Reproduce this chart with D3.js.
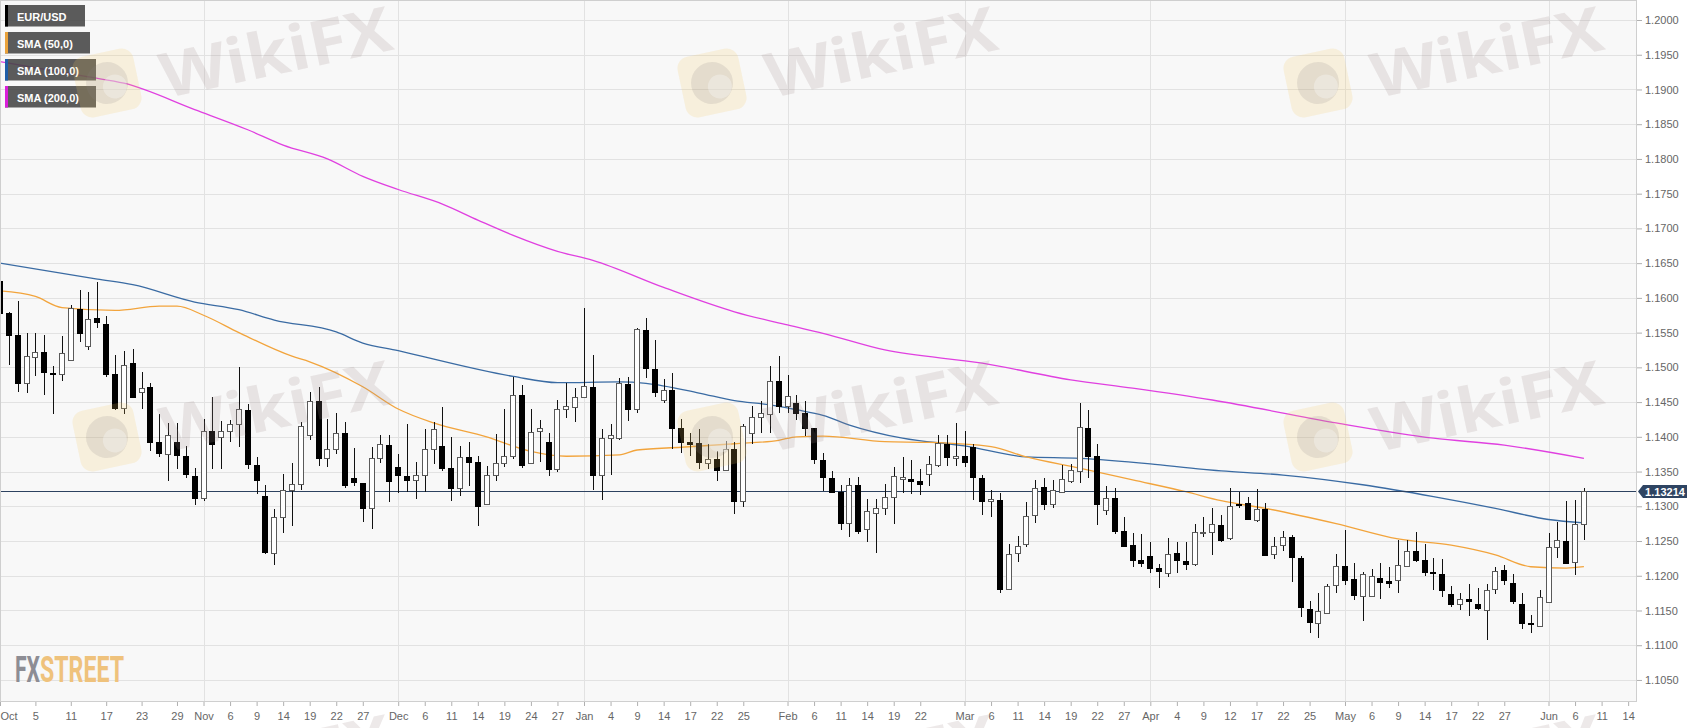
<!DOCTYPE html>
<meta charset="utf-8">
<script src="https://d3js.org/d3.v7.min.js"></script>
<style>
  body { margin: 0; background: #fff; }
  svg { display: block; }
</style>
<div id="chart"></div>
<script>
  // EUR/USD daily candles, Oct 1 2018 .. Jun 7 2019 (one value per weekday)
  var opens = [
    1.1624, 1.1578, 1.1546, 1.1477, 1.1515, 1.1522, 1.1492, 1.1490, 1.1511, 1.1584,
    1.1531, 1.1571, 1.1563, 1.1490, 1.1442, 1.1506, 1.1464, 1.1472, 1.1392, 1.1375,
    1.1392, 1.1372, 1.1343, 1.1312, 1.1408, 1.1400, 1.1408, 1.1418, 1.1439, 1.1360,
    1.1315, 1.1233, 1.1285, 1.1323, 1.1332, 1.1403, 1.1451, 1.1369, 1.1382, 1.1405,
    1.1341, 1.1333, 1.1297, 1.1369, 1.1388, 1.1356, 1.1344, 1.1338, 1.1345, 1.1382,
    1.1387, 1.1355, 1.1326, 1.1371, 1.1364, 1.1303, 1.1345, 1.1363, 1.1373, 1.1460,
    1.1363, 1.1409, 1.1392, 1.1353, 1.1440, 1.1443, 1.1457, 1.1471, 1.1345, 1.1398,
    1.1398, 1.1476, 1.1440, 1.1554, 1.1497, 1.1453, 1.1467, 1.1412, 1.1392, 1.1391,
    1.1362, 1.1368, 1.1352, 1.1382, 1.1308, 1.1406, 1.1428, 1.1433, 1.1480, 1.1445,
    1.1448, 1.1435, 1.1412, 1.1367, 1.1341, 1.1321, 1.1276, 1.1331, 1.1268, 1.1291,
    1.1297, 1.1314, 1.1340, 1.1339, 1.1337, 1.1346, 1.1360, 1.1390, 1.1370, 1.1372,
    1.1386, 1.1341, 1.1307, 1.1309, 1.1181, 1.1233, 1.1246, 1.1287, 1.1328, 1.1303,
    1.1321, 1.1337, 1.1351, 1.1413, 1.1372, 1.1294, 1.1312, 1.1264, 1.1244, 1.1222,
    1.1229, 1.1211, 1.1204, 1.1233, 1.1221, 1.1217, 1.1261, 1.1263, 1.1273, 1.1254,
    1.1303, 1.1305, 1.1280, 1.1296, 1.1232, 1.1244, 1.1256, 1.1226, 1.1152, 1.1132,
    1.1146, 1.1186, 1.1214, 1.1196, 1.1171, 1.1171, 1.1197, 1.1192, 1.1194, 1.1214,
    1.1235, 1.1223, 1.1206, 1.1203, 1.1174, 1.1160, 1.1166, 1.1160, 1.1151, 1.1181,
    1.1208, 1.1190, 1.1160, 1.1132, 1.1128, 1.1162, 1.1241, 1.1250, 1.1220, 1.1275
  ];
  var highs = [
    1.1632, 1.1580, 1.1595, 1.1549, 1.1550, 1.1547, 1.1502, 1.1545, 1.1590, 1.1611,
    1.1608, 1.1623, 1.1574, 1.1518, 1.1524, 1.1526, 1.1493, 1.1477, 1.1433, 1.1420,
    1.1420, 1.1387, 1.1355, 1.1425, 1.1457, 1.1423, 1.1424, 1.1500, 1.1447, 1.1371,
    1.1331, 1.1296, 1.1347, 1.1362, 1.1421, 1.1464, 1.1472, 1.1425, 1.1434, 1.1421,
    1.1384, 1.1333, 1.1386, 1.1403, 1.1403, 1.1375, 1.1419, 1.1364, 1.1411, 1.1422,
    1.1443, 1.1400, 1.1387, 1.1393, 1.1372, 1.1358, 1.1404, 1.1440, 1.1486, 1.1475,
    1.1440, 1.1424, 1.1405, 1.1453, 1.1478, 1.1470, 1.1585, 1.1518, 1.1411, 1.1419,
    1.1484, 1.1486, 1.1557, 1.1571, 1.1540, 1.1483, 1.1492, 1.1425, 1.1406, 1.1411,
    1.1390, 1.1380, 1.1394, 1.1392, 1.1419, 1.1445, 1.1451, 1.1502, 1.1516, 1.1489,
    1.1460, 1.1452, 1.1412, 1.1376, 1.1351, 1.1330, 1.1341, 1.1342, 1.1310, 1.1311,
    1.1332, 1.1356, 1.1371, 1.1367, 1.1353, 1.1372, 1.1402, 1.1402, 1.1420, 1.1408,
    1.1390, 1.1345, 1.1324, 1.1319, 1.1246, 1.1257, 1.1306, 1.1338, 1.1341, 1.1338,
    1.1360, 1.1361, 1.1448, 1.1438, 1.1390, 1.1329, 1.1327, 1.1284, 1.1261, 1.1260,
    1.1249, 1.1217, 1.1255, 1.1249, 1.1248, 1.1275, 1.1284, 1.1297, 1.1287, 1.1326,
    1.1321, 1.1314, 1.1325, 1.1305, 1.1256, 1.1264, 1.1259, 1.1228, 1.1163, 1.1175,
    1.1188, 1.1231, 1.1266, 1.1219, 1.1206, 1.1210, 1.1218, 1.1213, 1.1251, 1.1251,
    1.1263, 1.1246, 1.1225, 1.1224, 1.1185, 1.1175, 1.1188, 1.1182, 1.1188, 1.1213,
    1.1216, 1.1202, 1.1175, 1.1143, 1.1180, 1.1262, 1.1278, 1.1307, 1.1309, 1.1327
  ];
  var lows = [
    1.1572, 1.1504, 1.1464, 1.1463, 1.1488, 1.1460, 1.1433, 1.1480, 1.1509, 1.1536,
    1.1525, 1.1556, 1.1486, 1.1439, 1.1433, 1.1456, 1.1440, 1.1379, 1.1371, 1.1336,
    1.1353, 1.1341, 1.1302, 1.1307, 1.1353, 1.1353, 1.1392, 1.1386, 1.1353, 1.1317,
    1.1232, 1.1216, 1.1262, 1.1272, 1.1323, 1.1395, 1.1358, 1.1356, 1.1375, 1.1326,
    1.1329, 1.1278, 1.1267, 1.1362, 1.1306, 1.1319, 1.1320, 1.1310, 1.1321, 1.1361,
    1.1351, 1.1307, 1.1315, 1.1329, 1.1271, 1.1302, 1.1336, 1.1356, 1.1368, 1.1355,
    1.1362, 1.1364, 1.1344, 1.1350, 1.1427, 1.1421, 1.1456, 1.1324, 1.1309, 1.1345,
    1.1396, 1.1423, 1.1434, 1.1484, 1.1457, 1.1449, 1.1382, 1.1377, 1.1372, 1.1353,
    1.1353, 1.1337, 1.1351, 1.1289, 1.1299, 1.1390, 1.1405, 1.1405, 1.1435, 1.1435,
    1.1424, 1.1401, 1.1361, 1.1322, 1.1320, 1.1266, 1.1256, 1.1260, 1.1249, 1.1233,
    1.1287, 1.1275, 1.1319, 1.1318, 1.1316, 1.1329, 1.1357, 1.1358, 1.1358, 1.1357,
    1.1309, 1.1288, 1.1285, 1.1175, 1.1180, 1.1220, 1.1242, 1.1276, 1.1294, 1.1298,
    1.1320, 1.1334, 1.1334, 1.1341, 1.1273, 1.1287, 1.1260, 1.1241, 1.1213, 1.1212,
    1.1204, 1.1183, 1.1198, 1.1204, 1.1209, 1.1214, 1.1256, 1.1230, 1.1249, 1.1252,
    1.1298, 1.1280, 1.1278, 1.1228, 1.1224, 1.1235, 1.1191, 1.1141, 1.1117, 1.1110,
    1.1145, 1.1175, 1.1187, 1.1165, 1.1135, 1.1170, 1.1166, 1.1182, 1.1175, 1.1213,
    1.1220, 1.1200, 1.1179, 1.1169, 1.1155, 1.1150, 1.1142, 1.1150, 1.1108, 1.1174,
    1.1187, 1.1160, 1.1124, 1.1117, 1.1126, 1.1161, 1.1226, 1.1219, 1.1201, 1.1251
  ];
  var closes = [
    1.1578, 1.1547, 1.1478, 1.1516, 1.1522, 1.1493, 1.1491, 1.1520, 1.1586, 1.1550,
    1.1570, 1.1565, 1.1491, 1.1442, 1.1503, 1.1457, 1.1470, 1.1392, 1.1377, 1.1403,
    1.1374, 1.1347, 1.1312, 1.1409, 1.1389, 1.1408, 1.1419, 1.1440, 1.1361, 1.1338,
    1.1234, 1.1285, 1.1323, 1.1332, 1.1416, 1.1452, 1.1369, 1.1382, 1.1406, 1.1331,
    1.1335, 1.1297, 1.1369, 1.1389, 1.1336, 1.1345, 1.1338, 1.1345, 1.1382, 1.1411,
    1.1355, 1.1327, 1.1371, 1.1364, 1.1300, 1.1345, 1.1363, 1.1373, 1.1460, 1.1359,
    1.1407, 1.1412, 1.1353, 1.1440, 1.1444, 1.1458, 1.1473, 1.1345, 1.1398, 1.1403,
    1.1477, 1.1440, 1.1555, 1.1499, 1.1464, 1.1468, 1.1413, 1.1392, 1.1390, 1.1364,
    1.1368, 1.1352, 1.1382, 1.1308, 1.1415, 1.1428, 1.1434, 1.1481, 1.1444, 1.1459,
    1.1435, 1.1412, 1.1368, 1.1342, 1.1321, 1.1276, 1.1331, 1.1265, 1.1293, 1.1297,
    1.1314, 1.1343, 1.1342, 1.1337, 1.1332, 1.1361, 1.1391, 1.1371, 1.1372, 1.1364,
    1.1342, 1.1307, 1.1311, 1.1181, 1.1231, 1.1243, 1.1286, 1.1327, 1.1304, 1.1324,
    1.1340, 1.1352, 1.1414, 1.1373, 1.1304, 1.1312, 1.1265, 1.1243, 1.1222, 1.1218,
    1.1211, 1.1207, 1.1232, 1.1222, 1.1217, 1.1263, 1.1263, 1.1275, 1.1252, 1.1300,
    1.1302, 1.1281, 1.1296, 1.1230, 1.1243, 1.1256, 1.1227, 1.1155, 1.1134, 1.1149,
    1.1185, 1.1214, 1.1194, 1.1172, 1.1202, 1.1199, 1.1191, 1.1190, 1.1215, 1.1235,
    1.1222, 1.1206, 1.1204, 1.1179, 1.1159, 1.1167, 1.1164, 1.1153, 1.1180, 1.1207,
    1.1194, 1.1163, 1.1132, 1.1131, 1.1170, 1.1241, 1.1251, 1.1219, 1.1275, 1.13214
  ];
  var lastPrice = 1.13214;

  // moving averages (trading-day index -> value)
  var sma50Idx = [0, 4, 7, 13, 18, 20, 23, 27, 33, 35, 41, 45, 49, 55, 60, 64, 70, 72, 77, 83,
    88, 90, 93, 100, 105, 112, 116, 122, 128, 134, 138, 143, 151, 158, 164, 169, 173, 177, 179];
  var sma50Val = [1.1610, 1.1602, 1.1586, 1.1582, 1.1588, 1.1588, 1.1575, 1.1550, 1.1516, 1.1508,
    1.1472, 1.1440, 1.1420, 1.1400, 1.1379, 1.1372, 1.1374, 1.1381, 1.1385, 1.1390,
    1.1395, 1.1400, 1.1401, 1.1393, 1.1392, 1.1386, 1.1371, 1.1355, 1.1338, 1.1321,
    1.1308, 1.1297, 1.1275, 1.1253, 1.1244, 1.1230, 1.1213, 1.1211, 1.1213];
  var sma100Idx = [0, 11, 15, 22, 27, 31, 38, 41, 45, 47, 58, 63, 70, 73, 79, 83, 87, 90, 93, 96,
    102, 109, 116, 122, 130, 136, 138, 145, 154, 162, 169, 175, 179];
  var sma100Val = [1.1650, 1.1627, 1.1619, 1.1594, 1.1583, 1.1568, 1.1551, 1.1535, 1.1524, 1.1518,
    1.1487, 1.1478, 1.1479, 1.1477, 1.1463, 1.1452, 1.1446, 1.1439, 1.1431, 1.1417,
    1.1398, 1.1387, 1.1371, 1.1369, 1.1361, 1.1353, 1.1351, 1.1345, 1.1331, 1.1314,
    1.1297, 1.1281, 1.1276];
  var sma200Idx = [0, 10, 14, 22, 28, 32, 37, 41, 45, 50, 54, 58, 63, 67, 75, 83, 89, 93, 100,
    111, 121, 128, 137, 151, 162, 170, 179];
  var sma200Val = [1.1940, 1.1918, 1.1909, 1.1871, 1.1842, 1.1820, 1.1800, 1.1775, 1.1756, 1.1735,
    1.1712, 1.1690, 1.1667, 1.1654, 1.1615, 1.1580, 1.1561, 1.1549, 1.1525,
    1.1506, 1.1482, 1.1470, 1.1453, 1.1420, 1.1398, 1.1388, 1.1369];

  // axis ticks
  var priceTicks = [1.2000, 1.1950, 1.1900, 1.1850, 1.1800, 1.1750, 1.1700, 1.1650, 1.1600, 1.1550,
    1.1500, 1.1450, 1.1400, 1.1350, 1.1300, 1.1250, 1.1200, 1.1150, 1.1100, 1.1050];
  var tickDates = [
    "2018-10-01", "2018-10-05", "2018-10-11", "2018-10-17", "2018-10-23", "2018-10-29",
    "2018-11-01", "2018-11-06", "2018-11-09", "2018-11-14", "2018-11-19", "2018-11-22", "2018-11-27",
    "2018-12-03", "2018-12-06", "2018-12-11", "2018-12-14", "2018-12-19", "2018-12-24", "2018-12-27",
    "2019-01-01", "2019-01-04", "2019-01-09", "2019-01-14", "2019-01-17", "2019-01-22", "2019-01-25",
    "2019-02-01", "2019-02-06", "2019-02-11", "2019-02-14", "2019-02-19", "2019-02-22",
    "2019-03-01", "2019-03-06", "2019-03-11", "2019-03-14", "2019-03-19", "2019-03-22", "2019-03-27",
    "2019-04-01", "2019-04-04", "2019-04-09", "2019-04-12", "2019-04-17", "2019-04-22", "2019-04-25",
    "2019-05-01", "2019-05-06", "2019-05-09", "2019-05-14", "2019-05-17", "2019-05-22", "2019-05-27",
    "2019-06-03", "2019-06-06", "2019-06-11", "2019-06-14"];
  var tickText = [
    "Oct", "5", "11", "17", "23", "29",
    "Nov", "6", "9", "14", "19", "22", "27",
    "Dec", "6", "11", "14", "19", "24", "27",
    "Jan", "4", "9", "14", "17", "22", "25",
    "Feb", "6", "11", "14", "19", "22",
    "Mar", "6", "11", "14", "19", "22", "27",
    "Apr", "4", "9", "12", "17", "22", "25",
    "May", "6", "9", "14", "17", "22", "27",
    "Jun", "6", "11", "14"];

  var legendNames = ["EUR/USD", "SMA (50,0)", "SMA (100,0)", "SMA (200,0)"];
  var legendColors = ["#000000", "#e9a23b", "#1f5ea8", "#d91fd9"];

  // layout
  var W = 1707, H = 728, plotW = 1637, plotH = 702;
  var font = "'Liberation Sans', Arial, sans-serif";

  // weekday calendar -> trading day index
  var days = d3.timeDay.range(new Date(2018, 9, 1), new Date(2019, 5, 15))
    .filter(function (d) { return d.getDay() != 0 && d.getDay() != 6; });
  var fmt = d3.timeFormat("%Y-%m-%d");
  var dayIndex = {};
  days.forEach(function (d, i) { dayIndex[fmt(d)] = i; });

  var x = d3.scaleLinear().domain([0, 185]).range([0, plotW]);
  var y = d3.scaleLinear().domain([1.101828, 1.202879]).range([plotH, 0]);

  var svg = d3.select("#chart").append("svg")
    .attr("width", W).attr("height", H);

  svg.append("rect").attr("width", W).attr("height", H).attr("fill", "#ffffff");
  svg.append("defs").append("clipPath").attr("id", "plotClip")
    .append("rect").attr("width", plotW).attr("height", plotH);
  svg.append("rect").attr("width", plotW).attr("height", plotH).attr("fill", "#f8f8f8");

  // grid
  var grid = svg.append("g").attr("shape-rendering", "crispEdges");
  grid.selectAll(".hgrid").data(priceTicks).enter().append("line")
    .attr("x1", 0).attr("x2", plotW)
    .attr("y1", function (d) { return Math.round(y(d)) + 0.5; })
    .attr("y2", function (d) { return Math.round(y(d)) + 0.5; })
    .attr("stroke", "#e2e2e2");
  var monthIdx = tickDates.filter(function (d, i) { return isNaN(+tickText[i]); })
    .map(function (d) { return dayIndex[d]; });
  grid.selectAll(".vgrid").data(monthIdx).enter().append("line")
    .attr("x1", function (d) { return Math.round(x(d)) + 0.5; })
    .attr("x2", function (d) { return Math.round(x(d)) + 0.5; })
    .attr("y1", 0).attr("y2", plotH)
    .attr("stroke", "#e2e2e2");

  var plot = svg.append("g").attr("clip-path", "url(#plotClip)");

  // moving averages
  var line = d3.line()
    .x(function (d) { return x(d[0]); })
    .y(function (d) { return y(d[1]); })
    .curve(d3.curveMonotoneX);
  var smas = [
    { idx: sma200Idx, val: sma200Val, color: "#e040e0" },
    { idx: sma100Idx, val: sma100Val, color: "#3a6ba3" },
    { idx: sma50Idx, val: sma50Val, color: "#f2a43c" }
  ];
  smas.forEach(function (s) {
    plot.append("path")
      .datum(s.idx.map(function (d, i) { return [d, s.val[i]]; }))
      .attr("d", line)
      .attr("fill", "none")
      .attr("stroke", s.color)
      .attr("stroke-width", 1.3);
  });

  // current price line
  plot.append("line")
    .attr("x1", 0).attr("x2", plotW)
    .attr("y1", Math.round(y(lastPrice)) + 0.5).attr("y2", Math.round(y(lastPrice)) + 0.5)
    .attr("stroke", "#2d4260")
    .attr("shape-rendering", "crispEdges");

  // candles
  var candles = d3.range(opens.length).map(function (i) {
    return { i: i, o: opens[i], h: highs[i], l: lows[i], c: closes[i] };
  });
  var cg = plot.append("g").attr("shape-rendering", "crispEdges");
  var c = cg.selectAll(".candle").data(candles).enter().append("g");
  c.append("line")
    .attr("x1", function (d) { return Math.round(x(d.i)) + 0.5; })
    .attr("x2", function (d) { return Math.round(x(d.i)) + 0.5; })
    .attr("y1", function (d) { return Math.round(y(d.h)); })
    .attr("y2", function (d) { return Math.round(y(d.l)); })
    .attr("stroke", "#111");
  c.append("rect")
    .attr("x", function (d) { return Math.round(x(d.i)) - 2.5; })
    .attr("width", 5)
    .attr("y", function (d) { return Math.round(y(Math.max(d.o, d.c))) + 0.5; })
    .attr("height", function (d) {
      return Math.max(1, Math.round(y(Math.min(d.o, d.c))) - Math.round(y(Math.max(d.o, d.c))));
    })
    .attr("fill", function (d) { return d.c >= d.o ? "#ffffff" : "#000000"; })
    .attr("stroke", function (d) { return d.c >= d.o ? "#5a5a5a" : "#000000"; });

  // plot frame
  svg.append("rect")
    .attr("x", 0.5).attr("y", 0.5)
    .attr("width", plotW - 1).attr("height", plotH - 1)
    .attr("fill", "none").attr("stroke", "#cfcfcf")
    .attr("shape-rendering", "crispEdges");

  // y axis
  svg.append("g")
    .attr("transform", "translate(" + plotW + ",0)")
    .call(d3.axisRight(y).tickValues(priceTicks).tickSize(5).tickPadding(3).tickFormat(d3.format(".4f")))
    .attr("font-family", font).attr("font-size", 11)
    .call(function (g) { g.select(".domain").remove(); })
    .call(function (g) { g.selectAll(".tick line").attr("stroke", "#b0b0b0"); })
    .call(function (g) { g.selectAll(".tick text").attr("fill", "#666"); });

  // x axis
  var xg = svg.append("g")
    .attr("transform", "translate(0," + plotH + ")")
    .call(d3.axisBottom(x)
      .tickValues(tickDates.map(function (d) { return dayIndex[d]; }))
      .tickFormat(function (d, i) { return tickText[i]; })
      .tickSize(4).tickPadding(6))
    .attr("font-family", font).attr("font-size", 11);
  xg.select(".domain").remove();
  xg.selectAll(".tick line").attr("stroke", "#b0b0b0");
  xg.selectAll(".tick text").attr("fill", "#666");
  xg.select(".tick text").attr("text-anchor", "start").attr("x", 0);

  // last price tag
  var yc = Math.round(y(lastPrice)) + 0.5;
  svg.append("path")
    .attr("d", "M" + (plotW + 1) + "," + yc + "L" + (plotW + 6) + "," + (yc - 6.5) + "H1687V" + (yc + 6.5) +
      "H" + (plotW + 6) + "Z")
    .attr("fill", "#2e4462");
  svg.append("text")
    .attr("x", 1665).attr("y", yc + 4)
    .attr("text-anchor", "middle")
    .attr("font-family", font).attr("font-size", 11).attr("font-weight", "bold")
    .attr("fill", "#fff")
    .text(d3.format(".5f")(lastPrice));

  // legend
  var lg = svg.append("g").attr("font-family", font).attr("font-size", 11).attr("font-weight", "bold");
  var boxW = [80, 85, 91, 91];
  legendNames.forEach(function (name, i) {
    var top = 5 + i * 27;
    lg.append("rect").attr("x", 5).attr("y", top).attr("width", boxW[i]).attr("height", 21.5)
      .attr("fill", "#444").attr("fill-opacity", 0.88);
    lg.append("rect").attr("x", 5).attr("y", top).attr("width", 3).attr("height", 21.5)
      .attr("fill", legendColors[i]);
    lg.append("text").attr("x", 17).attr("y", top + 15.5).attr("fill", "#fff").text(name);
  });

  // FXStreet logo
  var logo = svg.append("text").attr("x", 15).attr("y", 682)
    .attr("font-family", "Roboto, sans-serif").attr("font-weight", "bold").attr("font-size", 36);
  logo.append("tspan").attr("fill", "#8d8d94").attr("textLength", 25)
    .attr("lengthAdjust", "spacingAndGlyphs").text("FX");
  logo.append("tspan").attr("x", 40).attr("fill", "#efc27c").attr("textLength", 84)
    .attr("lengthAdjust", "spacingAndGlyphs").text("STREET");

  // WikiFX watermarks
  var wmCols = [107, 712, 1318], wmRows = [83, 437, 791];
  var wm = svg.append("g").attr("pointer-events", "none");
  wmRows.forEach(function (ry) {
    wmCols.forEach(function (cx) {
      var g = wm.append("g").attr("transform", "translate(" + cx + "," + ry + ") rotate(-12)");
      g.append("rect").attr("x", -31).attr("y", -31).attr("width", 62).attr("height", 62).attr("rx", 12)
        .attr("fill", "#f5c860").attr("fill-opacity", 0.18);
      g.append("circle").attr("r", 21).attr("fill", "#8a8080").attr("fill-opacity", 0.17);
      g.append("circle").attr("cx", 7).attr("cy", 5).attr("r", 12).attr("fill", "#f8f8f8").attr("fill-opacity", 0.35);
      g.append("text").attr("x", 54).attr("y", 27)
        .attr("font-family", "'Open Sans', sans-serif").attr("font-weight", "bold").attr("font-size", 62)
        .attr("textLength", 235).attr("lengthAdjust", "spacingAndGlyphs")
        .attr("fill", "#a08888").attr("fill-opacity", 0.19)
        .text("WikiFX");
    });
  });
</script>
